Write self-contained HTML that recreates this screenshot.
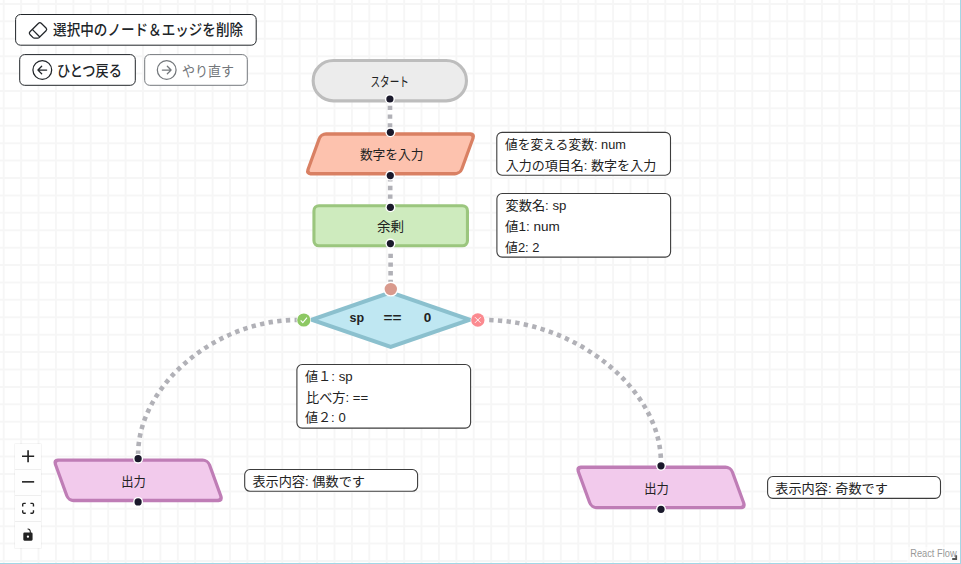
<!DOCTYPE html>
<html lang="ja"><head><meta charset="utf-8"><title>Flowchart</title>
<style>
html,body{margin:0;padding:0;background:#fff;overflow:hidden}
body{width:961px;height:564px;position:relative;font-family:"Liberation Sans",sans-serif}
svg{display:block;position:absolute;left:0;top:0}
svg text{font-family:"Liberation Sans","Noto Sans CJK JP",sans-serif}
.sr{position:absolute;left:0;top:0;width:1px;height:1px;overflow:hidden;clip:rect(0 0 0 0);clip-path:inset(50%);opacity:0;white-space:nowrap}
</style></head><body>
<svg width="961" height="564" viewBox="0 0 961 564">
<path d="M3.7 0V564M21.11 0V564M38.52 0V564M55.93 0V564M73.34 0V564M90.75 0V564M108.16 0V564M125.57 0V564M142.98 0V564M160.39 0V564M177.8 0V564M195.21 0V564M212.62 0V564M230.03 0V564M247.44 0V564M264.85 0V564M282.26 0V564M299.67 0V564M317.08 0V564M334.49 0V564M351.9 0V564M369.31 0V564M386.72 0V564M404.13 0V564M421.54 0V564M438.95 0V564M456.36 0V564M473.77 0V564M491.18 0V564M508.59 0V564M526 0V564M543.41 0V564M560.82 0V564M578.23 0V564M595.64 0V564M613.05 0V564M630.46 0V564M647.87 0V564M665.28 0V564M682.69 0V564M700.1 0V564M717.51 0V564M734.92 0V564M752.33 0V564M769.74 0V564M787.15 0V564M804.56 0V564M821.97 0V564M839.38 0V564M856.79 0V564M874.2 0V564M891.61 0V564M909.02 0V564M926.43 0V564M943.84 0V564M0 3.9H961M0 21.31H961M0 38.72H961M0 56.13H961M0 73.54H961M0 90.95H961M0 108.36H961M0 125.77H961M0 143.18H961M0 160.59H961M0 178H961M0 195.41H961M0 212.82H961M0 230.23H961M0 247.64H961M0 265.05H961M0 282.46H961M0 299.87H961M0 317.28H961M0 334.69H961M0 352.1H961M0 369.51H961M0 386.92H961M0 404.33H961M0 421.74H961M0 439.15H961M0 456.56H961M0 473.97H961M0 491.38H961M0 508.79H961M0 526.2H961M0 543.61H961M0 561.02H961" stroke="#000" stroke-opacity="0.037" stroke-width="2" fill="none"/>
<path d="M390 100V131" fill="none" stroke="#b1b1b7" stroke-width="4.6" stroke-dasharray="4.35 4.35" stroke-dashoffset="2.97"/>
<path d="M390.2 176V206" fill="none" stroke="#b1b1b7" stroke-width="4.6" stroke-dasharray="4.35 4.35" stroke-dashoffset="7.58"/>
<path d="M390.6 249.5V287" fill="none" stroke="#b1b1b7" stroke-width="4.6" stroke-dasharray="4.35 4.35" stroke-dashoffset="4.48"/>
<path d="M296.8 320C215.55 320 138.1 385.68 138.1 454.6" fill="none" stroke="#b1b1b7" stroke-width="4.6" stroke-dasharray="4.35 4.35" stroke-dashoffset="2.1"/>
<path d="M484.8 320C574.96 320 660.9 389.2 660.9 461.8" fill="none" stroke="#b1b1b7" stroke-width="4.6" stroke-dasharray="4.35 4.35" stroke-dashoffset="-4.4"/>
<rect x="313.15" y="60.55" width="153.3" height="40.3" rx="20.2" fill="#ececec" stroke="#bdbdbd" stroke-width="3.1"/>
<text x="370.4" y="85.7" font-size="13" fill="#222" textLength="38.5" lengthAdjust="spacingAndGlyphs">スタート</text>
<circle cx="389.9" cy="99" r="5.0" fill="#fff"/><circle cx="389.9" cy="99" r="3.6" fill="#1a192b"/>
<g transform="translate(390.5 153.85) skewX(-20) translate(-390.5 -153.85)"><rect x="313.7" y="134" width="153.6" height="39.7" rx="4.5" fill="#fdc2ae" stroke="#d98063" stroke-width="3.4"/></g>
<text x="359.9" y="158.6" font-size="13" fill="#222" textLength="63.6" lengthAdjust="spacingAndGlyphs">数字を入力</text>
<circle cx="390.4" cy="132.3" r="5.0" fill="#fff"/><circle cx="390.4" cy="132.3" r="3.6" fill="#1a192b"/>
<circle cx="390.3" cy="175.6" r="5.0" fill="#fff"/><circle cx="390.3" cy="175.6" r="3.6" fill="#1a192b"/>
<rect x="313.95" y="205.75" width="153.5" height="40" rx="5" fill="#ceebbe" stroke="#9bc67e" stroke-width="3.1"/>
<text x="377" y="230.8" font-size="13" fill="#222" textLength="27.1" lengthAdjust="spacingAndGlyphs">余剰</text>
<circle cx="390.4" cy="207.3" r="5.0" fill="#fff"/><circle cx="390.4" cy="207.3" r="3.6" fill="#1a192b"/>
<circle cx="390.4" cy="243.6" r="5.0" fill="#fff"/><circle cx="390.4" cy="243.6" r="3.6" fill="#1a192b"/>
<polygon points="305.5,319.75 390.7,290.3 475.9,319.75 390.7,349.1" fill="#8bc0ce"/>
<polygon points="317.98,319.75 390.7,294.6 463.42,319.75 390.7,344.8" fill="#bfe7f2"/>
<text x="349.6" y="322" font-size="13.5" font-weight="bold" fill="#222" textLength="14.6" lengthAdjust="spacingAndGlyphs">sp</text>
<text x="383.6" y="322" font-size="13.5" font-weight="bold" fill="#222" textLength="18" lengthAdjust="spacingAndGlyphs">==</text>
<text x="423.8" y="322" font-size="13.5" font-weight="bold" fill="#222">0</text>
<circle cx="390.8" cy="289.1" r="7.5" fill="#fff"/><circle cx="390.8" cy="289.1" r="6.2" fill="#d99a8d"/>
<circle cx="303.8" cy="320" r="7.2" fill="#fff"/><circle cx="303.8" cy="320" r="6.6" fill="#8dc863"/>
<path d="M300.7 320.3l2.1 2.3 4.2-5" fill="none" stroke="#fff" stroke-width="1.1" stroke-linejoin="round"/>
<circle cx="477.8" cy="320" r="7.2" fill="#fff"/><circle cx="477.8" cy="320" r="6.7" fill="#fb8a90"/>
<path d="M475 317.2l5.6 5.6M480.6 317.2l-5.6 5.6" fill="none" stroke="#fff" stroke-width="0.9"/>
<g transform="translate(138.15 480.3) skewX(20) translate(-138.15 -480.3)"><rect x="61.2" y="460.1" width="153.9" height="40.4" rx="4.5" fill="#f2caec" stroke="#bf7db6" stroke-width="3.4"/></g>
<text x="121.3" y="485.6" font-size="13" fill="#222" textLength="24.6" lengthAdjust="spacingAndGlyphs">出力</text>
<circle cx="138.1" cy="458.7" r="5.0" fill="#fff"/><circle cx="138.1" cy="458.7" r="3.6" fill="#1a192b"/>
<circle cx="138.1" cy="501.9" r="5.0" fill="#fff"/><circle cx="138.1" cy="501.9" r="3.6" fill="#1a192b"/>
<g transform="translate(661.05 487.4) skewX(20) translate(-661.05 -487.4)"><rect x="584.1" y="467.2" width="153.9" height="40.4" rx="4.5" fill="#f2caec" stroke="#bf7db6" stroke-width="3.4"/></g>
<text x="644.2" y="492.7" font-size="13" fill="#222" textLength="24.6" lengthAdjust="spacingAndGlyphs">出力</text>
<circle cx="661" cy="465.8" r="5.0" fill="#fff"/><circle cx="661" cy="465.8" r="3.6" fill="#1a192b"/>
<circle cx="661" cy="509.3" r="5.0" fill="#fff"/><circle cx="661" cy="509.3" r="3.6" fill="#1a192b"/>
<rect x="496.8" y="132.4" width="173.7" height="42.8" rx="5.3" fill="#fff" stroke="#3c3c3c" stroke-width="1.1"/>
<text x="504.9" y="148.5" font-size="13" fill="#222" textLength="121" lengthAdjust="spacingAndGlyphs">値を変える変数: num</text>
<text x="505.7" y="169.5" font-size="13" fill="#222" textLength="150.5" lengthAdjust="spacingAndGlyphs">入力の項目名: 数字を入力</text>
<rect x="496.9" y="193.5" width="173.7" height="63.6" rx="5.3" fill="#fff" stroke="#3c3c3c" stroke-width="1.1"/>
<text x="505.5" y="210.1" font-size="13" fill="#222" textLength="60.9" lengthAdjust="spacingAndGlyphs">変数名: sp</text>
<text x="505" y="230.7" font-size="13" fill="#222" textLength="54.8" lengthAdjust="spacingAndGlyphs">値1: num</text>
<text x="505" y="251.5" font-size="13" fill="#222" textLength="34.5" lengthAdjust="spacingAndGlyphs">値2: 2</text>
<rect x="296.9" y="364.5" width="173.7" height="63.6" rx="5.3" fill="#fff" stroke="#3c3c3c" stroke-width="1.1"/>
<text x="304.9" y="380.5" font-size="13" fill="#222" textLength="47.8" lengthAdjust="spacingAndGlyphs">値１: sp</text>
<text x="306.1" y="401.5" font-size="13" fill="#222" textLength="62" lengthAdjust="spacingAndGlyphs">比べ方: ==</text>
<text x="304.9" y="421.9" font-size="13" fill="#222" textLength="40.8" lengthAdjust="spacingAndGlyphs">値２: 0</text>
<rect x="244.7" y="469.5" width="172.9" height="21.8" rx="5.3" fill="#fff" stroke="#3c3c3c" stroke-width="1.1"/>
<text x="252.4" y="485.6" font-size="13" fill="#222" textLength="112.6" lengthAdjust="spacingAndGlyphs">表示内容: 偶数です</text>
<rect x="767.6" y="476.5" width="172.9" height="21.9" rx="5.3" fill="#fff" stroke="#3c3c3c" stroke-width="1.1"/>
<text x="775.3" y="492.7" font-size="13" fill="#222" textLength="112.6" lengthAdjust="spacingAndGlyphs">表示内容: 奇数です</text>
<rect x="15.6" y="14.5" width="240.6" height="30.7" rx="5" fill="#fff" stroke="#212529" stroke-width="1"/>
<path transform="translate(28 20) scale(1.25)" fill="#212529" fill-rule="evenodd" d="M8.086 2.207a2 2 0 0 1 2.828 0l3.879 3.879a2 2 0 0 1 0 2.828l-5.5 5.5A2 2 0 0 1 7.879 15H5.12a2 2 0 0 1-1.414-.586l-2.5-2.5a2 2 0 0 1 0-2.828l6.879-6.879zm2.121.707a1 1 0 0 0-1.414 0L4.16 7.547l5.293 5.293 4.633-4.633a1 1 0 0 0 0-1.414l-3.879-3.879zM8.746 13.547 3.453 8.254 1.914 9.793a1 1 0 0 0 0 1.414l2.5 2.5a1 1 0 0 0 .707.293H7.88a1 1 0 0 0 .707-.293l.16-.16z"/>
<text x="53.1" y="35.3" font-size="15" font-weight="500" fill="#212529" textLength="190" lengthAdjust="spacingAndGlyphs">選択中のノード＆エッジを削除</text>
<rect x="19.7" y="54.6" width="115.6" height="30.7" rx="5" fill="#fff" stroke="#212529" stroke-width="1"/>
<path transform="translate(32.3 60) scale(1.25)" fill="#212529" fill-rule="evenodd" d="M1 8a7 7 0 1 0 14 0A7 7 0 0 0 1 8zm15 0A8 8 0 1 1 0 8a8 8 0 0 1 16 0zm-4.5-.5a.5.5 0 0 1 0 1H5.707l2.147 2.146a.5.5 0 0 1-.708.708l-3-3a.5.5 0 0 1 0-.708l3-3a.5.5 0 1 1 .708.708L5.707 7.5H11.5z"/>
<text x="57" y="75.5" font-size="15" font-weight="500" fill="#212529" textLength="64.8" lengthAdjust="spacingAndGlyphs">ひとつ戻る</text>
<rect x="144.7" y="54.6" width="102.6" height="30.7" rx="5" fill="#fff" stroke="#75797d" stroke-width="1"/>
<path transform="translate(156.7 60) scale(1.25)" fill="#73777b" fill-rule="evenodd" d="M1 8a7 7 0 1 0 14 0A7 7 0 0 0 1 8zm15 0A8 8 0 1 1 0 8a8 8 0 0 1 16 0zM4.5 7.5a.5.5 0 0 0 0 1h5.793l-2.147 2.146a.5.5 0 0 0 .708.708l3-3a.5.5 0 0 0 0-.708l-3-3a.5.5 0 1 0-.708.708L10.293 7.5H4.5z"/>
<text x="182" y="75.5" font-size="14" fill="#72767a" textLength="52" lengthAdjust="spacingAndGlyphs">やり直す</text>
<rect x="14" y="443" width="28" height="106" fill="rgba(0,0,0,0.04)" rx="1.5"/><rect x="15" y="444" width="26" height="104" fill="#fefefe"/>
<path d="M15 469.5H41M15 495.5H41M15 521.5H41" stroke="#eee" stroke-width="1"/>
<path transform="translate(22 450.2) scale(0.38)" fill="#222" d="M32 18.133H18.133V32h-4.266V18.133H0v-4.266h13.867V0h4.266v13.867H32z"/>
<path transform="translate(22 481.06) scale(0.38)" fill="#222" d="M0 0h32v4.2H0z"/>
<path transform="translate(22 502.68) scale(0.38)" fill="#222" d="M3.692 4.63c0-.53.4-.938.939-.938h5.215V0H4.708C2.13 0 0 2.054 0 4.63v5.216h3.692V4.631zM27.354 0h-5.2v3.692h5.17c.53 0 .984.4.984.939v5.215H32V4.631A4.624 4.624 0 0027.354 0zm.954 24.83c0 .532-.4.94-.939.94h-5.215v3.768h5.215c2.577 0 4.631-2.13 4.631-4.707v-5.139h-3.692v5.139zm-23.677.94c-.531 0-.939-.4-.939-.94v-5.138H0v5.139c0 2.577 2.13 4.707 4.708 4.707h5.138V25.77H4.631z"/>
<path transform="translate(23.31 528.5) scale(0.38)" fill="#222" d="M21.333 10.667H19.81V7.619C19.81 3.429 16.38 0 12.19 0c-4.114 1.828-1.37 2.133.305 2.438 1.676.305 4.42 2.59 4.42 5.181v3.048H3.047A3.056 3.056 0 000 13.714v15.238A3.056 3.056 0 003.048 32h18.285a3.056 3.056 0 003.048-3.048V13.714a3.056 3.056 0 00-3.048-3.047zM12.19 24.533a3.056 3.056 0 01-3.047-3.047 3.056 3.056 0 013.047-3.048 3.056 3.056 0 013.048 3.048 3.056 3.056 0 01-3.048 3.047z"/>
<rect x="907" y="547" width="53" height="16" fill="rgba(255,255,255,0.5)"/>
<text x="910.2" y="556.8" font-size="10" fill="#999" textLength="46.4" lengthAdjust="spacingAndGlyphs">React Flow</text>
<path d="M952.2 559h4V555.3" fill="none" stroke="#555" stroke-width="1.8"/>
<path d="M960.5 0V564M0 563.5H961" stroke="#a3d7e6" stroke-width="1" fill="none"/>
</svg>
<div class="sr">
<button>選択中のノード＆エッジを削除</button><button>ひとつ戻る</button><button disabled>やり直す</button>
<p>スタート</p><p>数字を入力</p><p>値を変える変数: num</p><p>入力の項目名: 数字を入力</p>
<p>余剰</p><p>変数名: sp</p><p>値1: num</p><p>値2: 2</p>
<p>sp == 0</p><p>値１: sp</p><p>比べ方: ==</p><p>値２: 0</p>
<p>出力</p><p>表示内容: 偶数です</p><p>出力</p><p>表示内容: 奇数です</p><p>React Flow</p>
</div>
</body></html>
